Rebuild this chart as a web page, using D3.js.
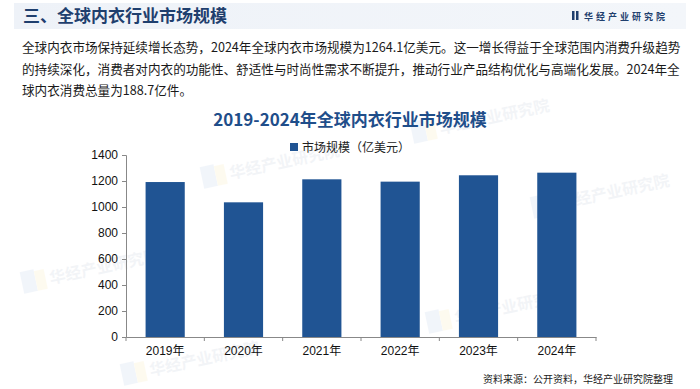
<!doctype html>
<html>
<head>
	<meta charset="utf-8">
	<title>全球内衣行业市场规模</title>
	<script src="https://cdn.jsdelivr.net/npm/d3@7"></script>
	<style>
		body { margin: 0; background: #fff; }
		svg { display: block; font-family: "Noto Sans CJK SC", "Liberation Sans", sans-serif; }
	</style>
</head>
<body>
	<script>
		// chart data
		var years = ['2019年', '2020年', '2021年', '2022年', '2023年', '2024年'];
		var marketSize = [1192, 1036, 1213, 1195, 1244, 1264.1];
		var yTicks = [0, 200, 400, 600, 800, 1000, 1200, 1400];

		var intro = [
			'全球内衣市场保持延续增长态势，2024年全球内衣市场规模为1264.1亿美元。这一增长得益于全球范围内消费升级趋势',
			'的持续深化，消费者对内衣的功能性、舒适性与时尚性需求不断提升，推动行业产品结构优化与高端化发展。2024年全',
			'球内衣消费总量为188.7亿件。'
		];

		var W = 700, H = 389;
		var svg = d3.select('body').append('svg')
			.attr('width', W)
			.attr('height', H);

		// header band
		var grad = svg.append('defs').append('linearGradient')
			.attr('id', 'hdr').attr('x1', 0).attr('x2', 1);
		grad.append('stop').attr('offset', 0).attr('stop-color', '#eef2f8');
		grad.append('stop').attr('offset', 1).attr('stop-color', '#f3f6fa');
		svg.append('rect')
			.attr('x', 14).attr('y', 3)
			.attr('width', 672).attr('height', 26)
			.attr('fill', 'url(#hdr)');

		svg.append('text')
			.attr('x', 23).attr('y', 22)
			.attr('fill', '#1f3f6e')
			.attr('font-size', 17)
			.attr('font-weight', 'bold')
			.text('三、全球内衣行业市场规模');

		// logo mark + name
		svg.append('rect').attr('x', 572).attr('y', 11).attr('width', 2.5).attr('height', 9).attr('fill', '#1f3f6e');
		svg.append('rect').attr('x', 576).attr('y', 11).attr('width', 2.5).attr('height', 9).attr('fill', '#1f3f6e');
		svg.append('text')
			.attr('x', 584).attr('y', 19.5)
			.attr('fill', '#1f3f6e')
			.attr('font-size', 9)
			.attr('font-weight', 'bold')
			.attr('letter-spacing', 3)
			.text('华经产业研究院');

		// faint watermarks, kept inside the frame
		var marks = [[50, 280], [230, 175], [440, 130], [150, 372], [455, 320], [560, 205]];
		marks.forEach(function (m) {
			var g = svg.append('g')
				.attr('transform', 'translate(' + m[0] + ',' + m[1] + ') rotate(-12)')
				.attr('opacity', 0.1);
			g.append('rect').attr('x', -28).attr('y', -14).attr('width', 14).attr('height', 22).attr('fill', '#7fa3d6');
			g.append('rect').attr('x', -14).attr('y', -12).attr('width', 10).attr('height', 20).attr('fill', '#f5d76e');
			g.append('text')
				.attr('x', 0).attr('y', 4)
				.attr('fill', '#8a9bb5')
				.attr('font-size', 16)
				.attr('font-weight', 'bold')
				.text('华经产业研究院');
		});

		// intro paragraph
		svg.append('g').selectAll('text')
			.data(intro)
			.enter()
			.append('text')
			.attr('x', 22)
			.attr('y', function (d, i) { return 52 + i * 21.5; })
			.attr('fill', '#1a1a1a')
			.attr('font-size', 12.6)
			.text(function (d) { return d; });

		// chart title
		svg.append('text')
			.attr('x', 350).attr('y', 126)
			.attr('text-anchor', 'middle')
			.attr('fill', '#1f4e8a')
			.attr('font-size', 17)
			.attr('font-weight', 'bold')
			.text('2019-2024年全球内衣行业市场规模');

		var barColor = '#205493';

		// legend
		svg.append('rect')
			.attr('x', 290).attr('y', 143)
			.attr('width', 8).attr('height', 8)
			.attr('fill', barColor);
		svg.append('text')
			.attr('x', 302).attr('y', 151.5)
			.attr('fill', '#222')
			.attr('font-size', 12)
			.text('市场规模（亿美元）');

		// scales
		var x = d3.scaleBand()
			.domain(years)
			.range([126, 596])
			.paddingInner(0.5)
			.paddingOuter(0.25);
		var y = d3.scaleLinear()
			.domain([0, 1400])
			.range([337, 155]);

		var plot = svg.append('g');

		plot.selectAll('rect.bar')
			.data(marketSize)
			.enter()
			.append('rect')
			.attr('class', 'bar')
			.attr('x', function (d, i) { return x(years[i]); })
			.attr('y', function (d) { return y(d); })
			.attr('width', x.bandwidth())
			.attr('height', function (d) { return y(0) - y(d); })
			.attr('fill', barColor);

		// y axis
		var yAxis = svg.append('g')
			.attr('transform', 'translate(126,0)')
			.call(d3.axisLeft(y).tickValues(yTicks).tickSize(4).tickPadding(4).tickFormat(d3.format('d')));
		yAxis.selectAll('path, line').attr('stroke', '#888');
		yAxis.selectAll('text')
			.attr('font-family', '"Liberation Sans", Arial, sans-serif')
			.attr('font-size', 12)
			.attr('fill', '#111');

		// x axis with ticks on band edges
		var xAxis = svg.append('g')
			.attr('transform', 'translate(0,337)')
			.call(d3.axisBottom(x).tickSize(0).tickPadding(9));
		xAxis.select('.domain').attr('stroke', '#888');
		xAxis.selectAll('text')
			.attr('font-family', '"Liberation Sans", "Noto Sans CJK SC", sans-serif')
			.attr('font-size', 12)
			.attr('fill', '#111');
		var step = x.step();
		xAxis.selectAll('line.edge')
			.data(d3.range(years.length + 1))
			.enter()
			.append('line')
			.attr('class', 'edge')
			.attr('x1', function (i) { return 126 + i * step; })
			.attr('x2', function (i) { return 126 + i * step; })
			.attr('y1', 0).attr('y2', 4)
			.attr('stroke', '#888');

		// source note
		svg.append('text')
			.attr('x', 673).attr('y', 383)
			.attr('text-anchor', 'end')
			.attr('fill', '#222')
			.attr('font-size', 10)
			.text('资料来源：公开资料，华经产业研究院整理');
	</script>
</body>
</html>
